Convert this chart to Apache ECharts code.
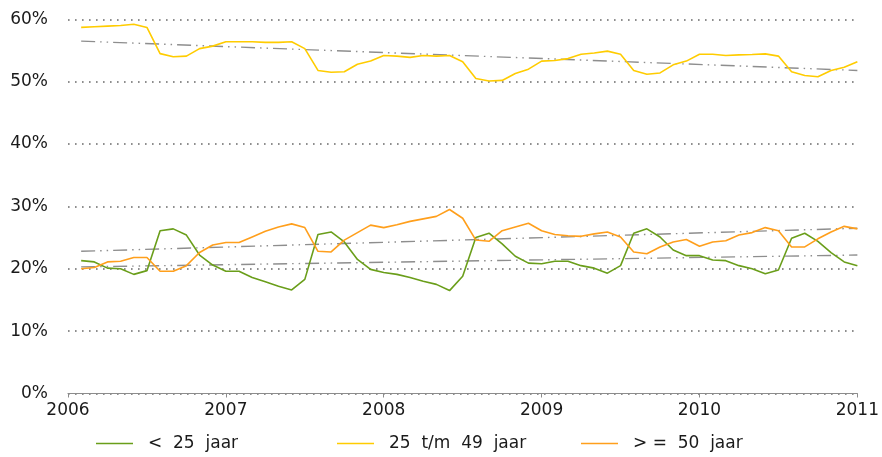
<!DOCTYPE html>
<html>
<head>
    <meta charset='utf-8'>
    <script src="https://cdn.jsdelivr.net/npm/echarts@6/dist/echarts.min.js"></script>
</head>
<body>
<style>
    html, body, #main {
        width: 100%;
        height: 100%;
        margin: 0;
        padding: 0;
        background: #fff;
    }
</style>
<div id="main"></div>
<script>
    // monthly shares (%), Jan 2006 .. Dec 2010, each plotted at month end
    var startYear = 2006;
    var yearTicks = ['2006', '2007', '2008', '2009', '2010', '2011'];
    var seriesNames = ['<  25  jaar', '25  t/m  49  jaar', '> =  50  jaar'];

    var youngShare = [
        21.3, 21.1, 20.1, 20.0, 19.1, 19.7, 26.1, 26.4, 25.4, 22.2, 20.6, 19.6,
        19.6, 18.6, 17.9, 17.2, 16.6, 18.3, 25.5, 25.9, 24.3, 21.5, 19.9, 19.4,
        19.1, 18.6, 18.0, 17.5, 16.5, 18.8, 25.0, 25.7, 24.0, 22.0, 20.9, 20.8,
        21.2, 21.2, 20.5, 20.1, 19.3, 20.5, 25.7, 26.4, 25.1, 23.0, 22.1, 22.1,
        21.4, 21.3, 20.5, 20.0, 19.2, 19.8, 24.9, 25.7, 24.4, 22.6, 21.1, 20.5
    ];
    var middleShare = [
        58.7, 58.8, 58.9, 59.0, 59.2, 58.7, 54.5, 54.0, 54.1, 55.3, 55.7, 56.4,
        56.4, 56.4, 56.3, 56.3, 56.4, 55.3, 51.8, 51.5, 51.6, 52.8, 53.3, 54.2,
        54.1, 53.9, 54.2, 54.1, 54.2, 53.2, 50.5, 50.1, 50.2, 51.3, 52.0, 53.3,
        53.4, 53.7, 54.4, 54.6, 54.9, 54.4, 51.8, 51.2, 51.4, 52.7, 53.3, 54.4,
        54.4, 54.2, 54.3, 54.35, 54.45, 54.1, 51.6, 51.0, 50.8, 51.8, 52.3, 53.2
    ];
    var olderShare = [
        20.0, 20.2, 21.1, 21.2, 21.8, 21.8, 19.6, 19.6, 20.5, 22.6, 23.8, 24.2,
        24.2, 25.1, 26.0, 26.7, 27.2, 26.6, 22.8, 22.7, 24.6, 25.8, 27.0, 26.6,
        27.05, 27.6, 28.0, 28.4, 29.5, 28.1, 24.6, 24.4, 26.1, 26.7, 27.3, 26.1,
        25.5, 25.3, 25.2, 25.6, 25.9, 25.1, 22.7, 22.4, 23.5, 24.3, 24.7, 23.6,
        24.3, 24.5, 25.4, 25.8, 26.6, 26.1, 23.5, 23.5, 24.8, 25.9, 26.8, 26.4
    ];

    // linear trend lines: value at first and last month
    var youngTrend = [20.3, 22.2];
    var middleTrend = [56.5, 51.8];
    var olderTrend = [22.8, 26.5];

    var colors = ['#6a9e1a', '#ffcc00', '#ff9f1c'];

    function monthX(i) {
        return startYear + (i + 1) / 12;
    }

    function toPoints(values) {
        return values.map(function (v, i) {
            return [monthX(i), v];
        });
    }

    function trendPoints(ends, n) {
        return [[monthX(0), ends[0]], [monthX(n - 1), ends[1]]];
    }

    var chart = echarts.init(document.getElementById('main'));

    var font = 'DejaVu Sans';
    var lineSeries = [youngShare, middleShare, olderShare].map(function (vals, k) {
        return {
            name: seriesNames[k],
            type: 'line',
            symbol: 'none',
            z: 3,
            lineStyle: {width: 1.6, color: colors[k]},
            itemStyle: {color: colors[k]},
            data: toPoints(vals)
        };
    });
    var trendSeries = [youngTrend, middleTrend, olderTrend].map(function (ends) {
        return {
            type: 'line',
            symbol: 'none',
            silent: true,
            z: 2,
            lineStyle: {width: 1.4, color: '#8e8e8e', type: [14, 5, 1.5, 5, 1.5, 5]},
            data: trendPoints(ends, youngShare.length)
        };
    });

    function legendFor(name, left) {
        return {
            data: [name],
            left: left,
            top: 430,
            icon: 'rect',
            itemWidth: 37,
            itemHeight: 1.5,
            textStyle: {fontFamily: font, fontSize: 17, color: '#1a1a1a', padding: [0, 0, 0, 10]}
        };
    }

    chart.setOption({
        animation: false,
        legend: [
            legendFor(seriesNames[0], 91),
            legendFor(seriesNames[1], 332),
            legendFor(seriesNames[2], 576)
        ],
        grid: {left: 68, right: 19.7, top: 19.3, bottom: 63.5, containLabel: false},
        xAxis: {
            type: 'value',
            min: 2006,
            max: 2011,
            interval: 1,
            offset: 3,
            axisLine: {lineStyle: {color: '#8c8c8c', width: 1.2}},
            axisTick: {show: true, length: 4, lineStyle: {color: '#8c8c8c'}},
            splitLine: {show: false},
            axisLabel: {
                fontFamily: font, fontSize: 17, color: '#1a1a1a', margin: 6,
                formatter: function (v) {
                    return yearTicks[Math.round(v - startYear)];
                }
            }
        },
        yAxis: {
            type: 'value',
            min: 0,
            max: 60,
            interval: 10,
            axisLine: {show: false},
            axisTick: {show: false},
            axisLabel: {fontFamily: font, fontSize: 17, color: '#1a1a1a', margin: 20, formatter: '{value}%'},
            splitLine: {lineStyle: {color: '#6a6a6a', width: 1.6, type: [1.6, 5.4]}}
        },
        series: lineSeries.concat(trendSeries)
    });
</script>
</body>
</html>
